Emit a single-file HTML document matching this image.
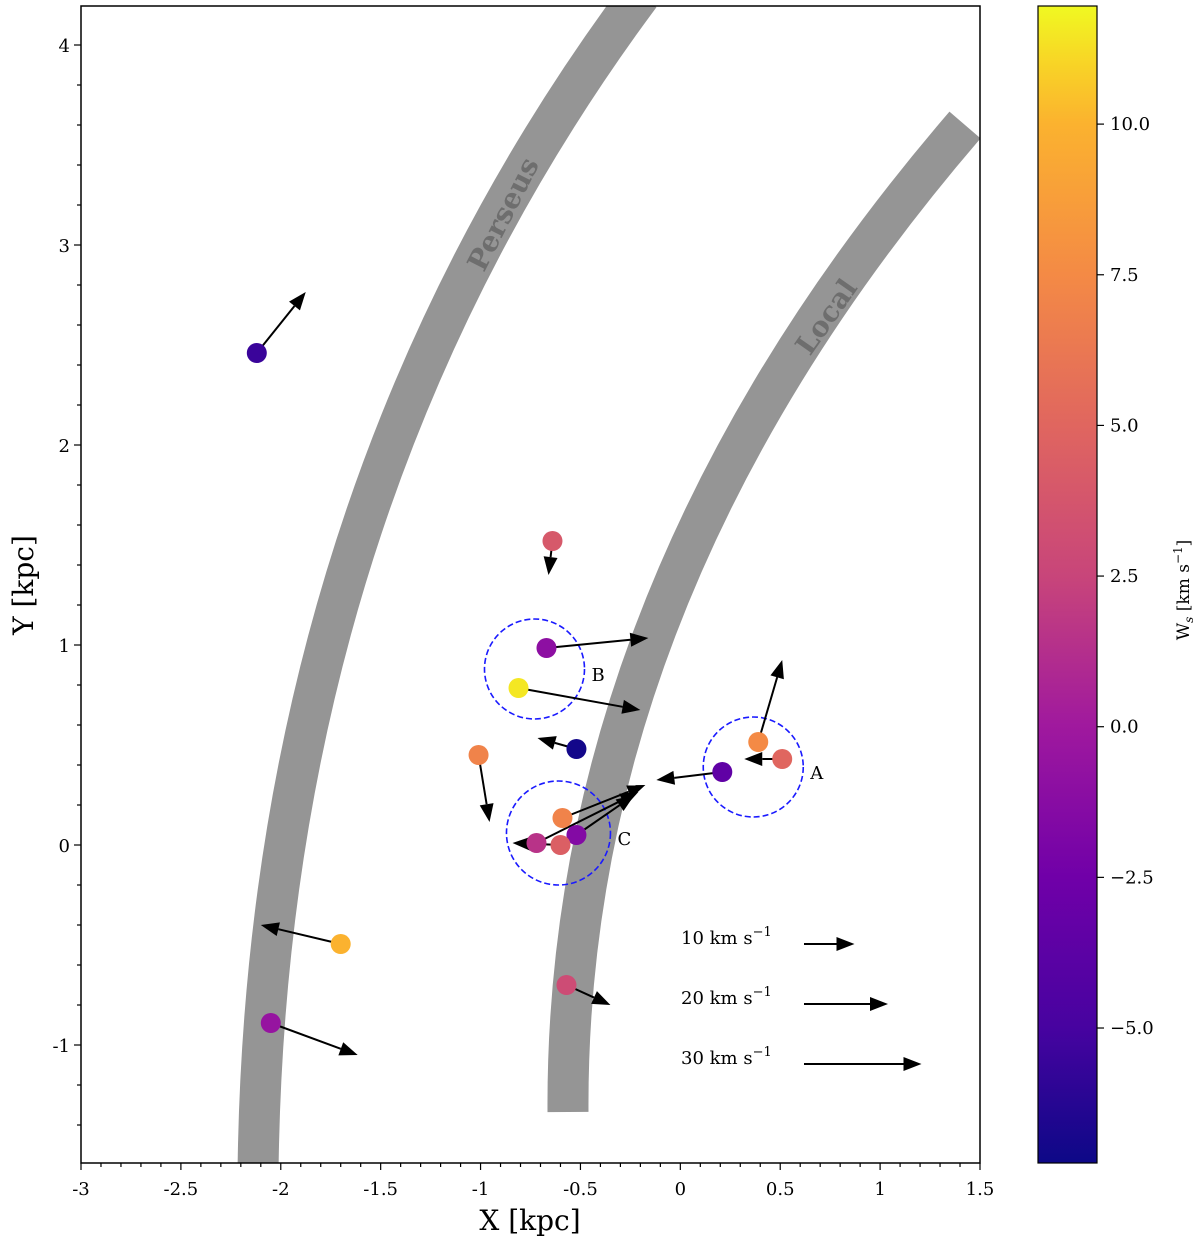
<!DOCTYPE html>
<html><head><meta charset="utf-8"><style>
body{margin:0;background:#fff}
svg{display:block;font-family:"DejaVu Serif","Liberation Serif",serif}
</style></head><body>
<svg id="chart" width="1200" height="1249" viewBox="0 0 1200 1249" xmlns="http://www.w3.org/2000/svg">
<defs>
<clipPath id="pc"><rect x="81" y="6" width="899" height="1157"/></clipPath>
<linearGradient id="plasma" x1="0" y1="1" x2="0" y2="0">
<stop offset="0" stop-color="#0d0887"/><stop offset="0.117" stop-color="#4703a0"/><stop offset="0.247" stop-color="#7000a8"/><stop offset="0.378" stop-color="#a0199e"/><stop offset="0.507" stop-color="#c8457a"/><stop offset="0.638" stop-color="#e0665f"/><stop offset="0.768" stop-color="#f48a45"/><stop offset="0.898" stop-color="#fbb22f"/><stop offset="0.95" stop-color="#f8d426"/><stop offset="1" stop-color="#f0f921"/>
</linearGradient>
</defs>
<g clip-path="url(#pc)">
<path d="M258,1175 Q265,500 640,-5" stroke="#959595" stroke-width="41" fill="none"/>
<path d="M568,1112 Q565,590 965,125" stroke="#959595" stroke-width="41" fill="none"/>
</g>
<text x="505" y="215" transform="rotate(-63 505 215)" text-anchor="middle" font-size="28" font-weight="bold" fill="#6e6e6e" dominant-baseline="middle">Perseus</text>
<text x="828" y="318" transform="rotate(-55 828 318)" text-anchor="middle" font-size="28" font-weight="bold" fill="#6e6e6e" dominant-baseline="middle">Local</text>
<g id="groups"></g>
<g id="marks"></g>
<g id="axes"></g>
<g id="legend"></g>
<g id="cbar"></g>
<text x="530" y="1230" text-anchor="middle" font-size="28">X [kpc]</text>
<text x="33" y="585" transform="rotate(-90 33 585)" text-anchor="middle" font-size="28">Y [kpc]</text>
<text x="1189" y="590" transform="rotate(-90 1189 590)" text-anchor="middle" font-size="17">W<tspan font-size="12" dy="4" font-style="italic">s</tspan><tspan dy="-4"> [km s</tspan><tspan font-size="12" dy="-7">−1</tspan><tspan dy="7">]</tspan></text>
</svg>
<script>
const xs=[-2.12,-0.64,-0.67,-0.81,-0.52,-1.01,0.39,0.51,0.21,-0.59,-0.52,-0.72,-0.60,-1.70,-2.05,-0.57];
const ys=[2.46,1.52,0.985,0.785,0.48,0.45,0.515,0.43,0.365,0.135,0.05,0.01,0.0,-0.495,-0.89,-0.70];
const dxs=[0.245,-0.02,0.51,0.61,-0.195,0.055,0.12,-0.19,-0.33,0.415,0.29,0.51,-0.24,-0.4,0.435,0.22];
const dys=[0.305,-0.17,0.05,-0.11,0.055,-0.335,0.41,0,-0.04,0.165,0.2,0.255,0.01,0.095,-0.16,-0.1];
const ws=[-5.5,4,-1,11.5,-7,7,7.5,5,-3.5,7,-1.5,1.5,4.5,10,-0.5,3];
const groupNames=["A","B","C"];
const groupX=[0.365,-0.73,-0.61];
const groupY=[0.39,0.88,0.06];
const groupR=[0.25,0.25,0.26];
const xTicks=[-3,-2.5,-2,-1.5,-1,-0.5,0,0.5,1,1.5];
const yTicks=[-1,0,1,2,3,4];
const cTicks=[-5,-2.5,0,2.5,5,7.5,10];
const legendSpeeds=[10,20,30];
const NS="http://www.w3.org/2000/svg";
const sx=v=>81+(v+3)*899/4.5, sy=v=>845-v*200;
const cmin=-7.24,cmax=11.96;
const sc=v=>1163-(v-cmin)*(1157/(cmax-cmin));
const stops=[[0,[13,8,135]],[.117,[71,3,160]],[.247,[112,0,168]],[.378,[160,25,158]],[.507,[200,69,122]],[.638,[224,102,95]],[.768,[244,138,69]],[.898,[251,178,47]],[.95,[248,212,38]],[1,[240,249,33]]];
function cmap(v){let t=Math.max(0,Math.min(1,(v-cmin)/(cmax-cmin)));for(let i=1;i<stops.length;i++){if(t<=stops[i][0]){const a=stops[i-1],b=stops[i],f=(t-a[0])/(b[0]-a[0]);return 'rgb('+a[1].map((c,k)=>Math.round(c+(b[1][k]-c)*f)).join(',')+')';}}return 'rgb(240,249,33)';}
function mk(tag,attrs,parent,text){const e=document.createElementNS(NS,tag);for(const k in attrs)e.setAttribute(k,attrs[k]);if(text!==undefined)e.textContent=text;parent.appendChild(e);return e;}
function arrow(x1,y1,x2,y2,parent){const L=Math.hypot(x2-x1,y2-y1),ux=(x2-x1)/L,uy=(y2-y1)/L,h=18,w=7;const bx=x2-ux*h,by=y2-uy*h;
const l=mk('line',{x1:x1,y1:y1,x2:bx,y2:by,stroke:'#000','stroke-width':2},parent);


const p=mk('polygon',{points:`${x2},${y2} ${bx-uy*w},${by+ux*w} ${bx+uy*w},${by-ux*w}`,fill:'#000'},parent);

}
const g=document.getElementById('groups');
groupNames.forEach((n,i)=>{const c=mk('circle',{cx:sx(groupX[i]),cy:sy(groupY[i]),r:groupR[i]*200,fill:'none',stroke:'#1a1aff','stroke-width':1.6,'stroke-dasharray':'6,3'},g);


const t=mk('text',{x:sx(groupX[i])+groupR[i]*200+7,y:sy(groupY[i])+12,'font-size':18},g,n);

});
const m=document.getElementById('marks');
xs.forEach((x,i)=>{arrow(sx(x),sy(ys[i]),sx(x+dxs[i]),sy(ys[i]+dys[i]),m);});
xs.forEach((x,i)=>{const c=mk('circle',{cx:sx(x),cy:sy(ys[i]),r:10,fill:cmap(ws[i])},m);

});
const a=document.getElementById('axes');
const fr=mk('rect',{x:81,y:6,width:899,height:1157,fill:'none',stroke:'#000','stroke-width':1.5},a);


for(let k=-30;k<=15;k++){const X=sx(k/10);const maj=k%5===0;mk('line',{x1:X,y1:1163,x2:X,y2:1163+(maj?7:4),stroke:'#000','stroke-width':1.2},a);}
for(let k=-7;k<=21;k++){const Y=sy(k/5);if(Y<6||Y>1163)continue;const maj=k%5===0;mk('line',{x1:81,y1:Y,x2:81-(maj?7:4),y2:Y,stroke:'#000','stroke-width':1.2},a);}
xTicks.forEach(v=>{const t=mk('text',{x:sx(v),y:1195,'text-anchor':'middle','font-size':18},a,String(v));

});
yTicks.forEach(v=>{const t=mk('text',{x:70,y:sy(v)+7,'text-anchor':'end','font-size':18},a,String(v));

});
const lg=document.getElementById('legend');
legendSpeeds.forEach((s,i)=>{const Y=944+i*60;
const t=mk('text',{x:681,y:Y,'font-size':18},lg);t.innerHTML=s+' km s<tspan font-size="13" dy="-8">−1</tspan>';


arrow(804,Y,804+17+3.35*s,Y,lg);});
const cb=document.getElementById('cbar');
const r=mk('rect',{x:1038,y:6,width:59,height:1157,fill:'url(#plasma)',stroke:'#000','stroke-width':1.2},cb);


cTicks.forEach(v=>{const Y=sc(v);mk('line',{x1:1097,y1:Y,x2:1104,y2:Y,stroke:'#000','stroke-width':1.2},cb);
const t=mk('text',{x:1110,y:Y+6,'font-size':18},cb,(v<0?'−':'')+Math.abs(v).toFixed(1));

});
</script>
</body></html>
